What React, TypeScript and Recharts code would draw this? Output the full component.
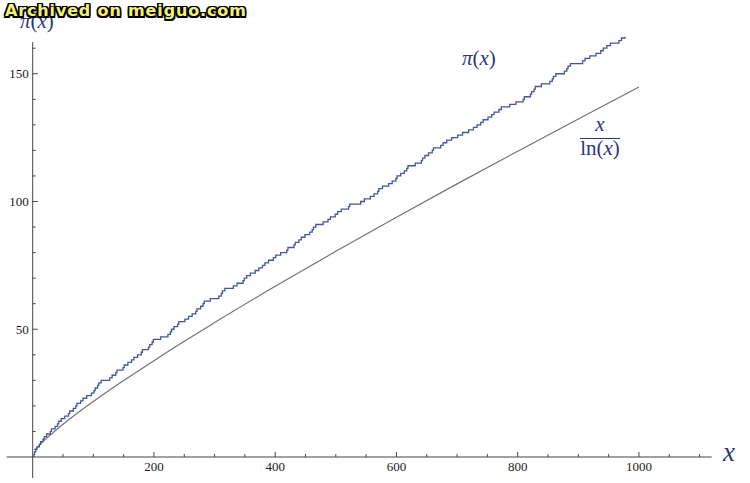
import React from 'react';
import { LineChart, Line, XAxis, YAxis, ReferenceLine } from 'recharts';

// primes up to the point where the staircase leaves the plot range
const primes = [
  2, 3, 5, 7, 11, 13, 17, 19, 23, 29, 31, 37, 41, 43, 47, 53, 59, 61, 67, 71, 73, 79, 83, 89, 97,
  101, 103, 107, 109, 113, 127, 131, 137, 139, 149, 151, 157, 163, 167, 173, 179, 181, 191, 193, 197, 199,
  211, 223, 227, 229, 233, 239, 241, 251, 257, 263, 269, 271, 277, 281, 283, 293,
  307, 311, 313, 317, 331, 337, 347, 349, 353, 359, 367, 373, 379, 383, 389, 397,
  401, 409, 419, 421, 431, 433, 439, 443, 449, 457, 461, 463, 467, 479, 487, 491, 499,
  503, 509, 521, 523, 541, 547, 557, 563, 569, 571, 577, 587, 593, 599,
  601, 607, 613, 617, 619, 631, 641, 643, 647, 653, 659, 661, 673, 677, 683, 691,
  701, 709, 719, 727, 733, 739, 743, 751, 757, 761, 769, 773, 787, 797,
  809, 811, 821, 823, 827, 829, 839, 853, 857, 859, 863, 877, 881, 883, 887,
  907, 911, 919, 929, 937, 941, 947, 953, 967, 971, 977,
];

// x / ln(x)
const approxX = [2, 5, 10, 20, 30, 50, 75, 100, 150, 200, 250, 300, 400, 500, 600, 700, 800, 900, 1000];
const approxY = [2.9, 3.1, 4.3, 6.7, 8.8, 12.8, 17.4, 21.7, 29.9, 37.7, 45.3, 52.6, 66.8, 80.5, 93.8, 106.9, 119.7, 132.3, 144.8];

const xTicks = [50, 100, 150, 200, 250, 300, 350, 400, 450, 500, 550, 600, 650, 700, 750, 800, 850, 900, 950, 1000, 1050, 1100];
const xLabels = [200, 400, 600, 800, 1000];
const yTicks = [10, 20, 30, 40, 50, 60, 70, 80, 90, 100, 110, 120, 130, 140, 150, 160];
const yLabels = [50, 100, 150];

const piData = [{ x: 0, y: 0 }, ...primes.map((p, i) => ({ x: p, y: i + 1 }))];
const approxData = approxX.map((x, i) => ({ x, y: approxY[i] }));

const AXIS = '#444';
const NAVY = '#2d3680';
const SERIF = '"Liberation Serif", "Times New Roman", serif';

const XTick = (props: any) => {
  const { x, y, payload } = props;
  const major = xLabels.includes(payload.value);
  return (
    <g>
      <line x1={x} y1={y} x2={x} y2={y - (major ? 5 : 3)} stroke={AXIS} strokeWidth={1} />
      {major && (
        <text x={x} y={y + 13.5} textAnchor="middle" fontFamily={SERIF} fontSize={13} fill="#222">
          {payload.value}
        </text>
      )}
    </g>
  );
};

const YTick = (props: any) => {
  const { x, y, payload } = props;
  const major = yLabels.includes(payload.value);
  return (
    <g>
      <line x1={x} y1={y} x2={x + (major ? 5 : 3)} y2={y} stroke={AXIS} strokeWidth={1} />
      {major && (
        <text x={x - 4} y={y + 4.5} textAnchor="end" fontFamily={SERIF} fontSize={13} fill="#222">
          {payload.value}
        </text>
      )}
    </g>
  );
};

const outline =
  '-1.5px -1.5px 0 #000, 1.5px -1.5px 0 #000, -1.5px 1.5px 0 #000, 1.5px 1.5px 0 #000, 0 -1.5px 0 #000, 0 1.5px 0 #000, -1.5px 0 0 #000, 1.5px 0 0 #000';

const PiLabel: React.FC<{ left: number; top: number }> = ({ left, top }) => (
  <div style={{ position: 'absolute', left, top, fontFamily: SERIF, fontSize: 21, lineHeight: 1, color: NAVY, whiteSpace: 'nowrap' }}>
    <i>π</i>(<i>x</i>)
  </div>
);

const App: React.FC = () => {
  return (
    <div style={{ position: 'absolute', left: 0, top: 0, width: 750, height: 483, background: '#fff', overflow: 'hidden' }}>
      <LineChart
        width={750}
        height={483}
        data={piData}
        margin={{ top: 36.7, right: 38.3, bottom: 25, left: 31.7 }}
      >
        <XAxis
          type="number"
          dataKey="x"
          domain={[0, 1120]}
          ticks={xTicks}
          interval={0}
          height={1}
          axisLine={false}
          tickLine={false}
          tickSize={0}
          tickMargin={0}
          tick={(p: any) => <XTick {...p} />}
        />
        <YAxis
          type="number"
          dataKey="y"
          domain={[0, 164.5]}
          allowDataOverflow
          ticks={yTicks}
          interval={0}
          width={1}
          axisLine={false}
          tickLine={false}
          tickSize={0}
          tickMargin={0}
          tick={(p: any) => <YTick {...p} />}
        />
        <ReferenceLine segment={[{ x: -43, y: 0 }, { x: 1120, y: 0 }]} stroke={AXIS} strokeWidth={1} ifOverflow="visible" />
        <ReferenceLine segment={[{ x: 0, y: -8.2 }, { x: 0, y: 162.4 }]} stroke={AXIS} strokeWidth={1} ifOverflow="visible" />
        <Line
          data={approxData}
          dataKey="y"
          type="monotone"
          stroke="#737373"
          strokeWidth={1.2}
          dot={false}
          isAnimationActive={false}
        />
        <Line
          data={piData}
          dataKey="y"
          type="stepAfter"
          stroke="#46569a"
          strokeWidth={1.3}
          dot={false}
          isAnimationActive={false}
        />
      </LineChart>

      <PiLabel left={20} top={11.4} />
      <PiLabel left={462} top={48.4} />

      <div style={{ position: 'absolute', left: 723, top: 439.4, fontFamily: SERIF, fontSize: 27, lineHeight: 1, color: NAVY, fontStyle: 'italic' }}>
        x
      </div>

      <div style={{ position: 'absolute', left: 580, top: 114.4, width: 40, textAlign: 'center', fontFamily: SERIF, fontSize: 21, lineHeight: 1, color: NAVY, fontStyle: 'italic' }}>
        x
      </div>
      <div style={{ position: 'absolute', left: 580, top: 138, width: 40, height: 1, background: NAVY }} />
      <div style={{ position: 'absolute', left: 578, top: 137.8, width: 44, textAlign: 'center', fontFamily: SERIF, fontSize: 21, lineHeight: 1, color: NAVY, whiteSpace: 'nowrap' }}>
        ln(<i>x</i>)
      </div>

      <div
        style={{
          position: 'absolute',
          left: 5,
          top: 3,
          fontFamily: '"DejaVu Sans", sans-serif',
          fontWeight: 'bold',
          fontSize: 16,
          lineHeight: 1,
          letterSpacing: 0.85,
          color: '#f4f07c',
          textShadow: outline,
          whiteSpace: 'nowrap',
        }}
      >
        Archived on meiguo.com
      </div>
    </div>
  );
};

export default App;
